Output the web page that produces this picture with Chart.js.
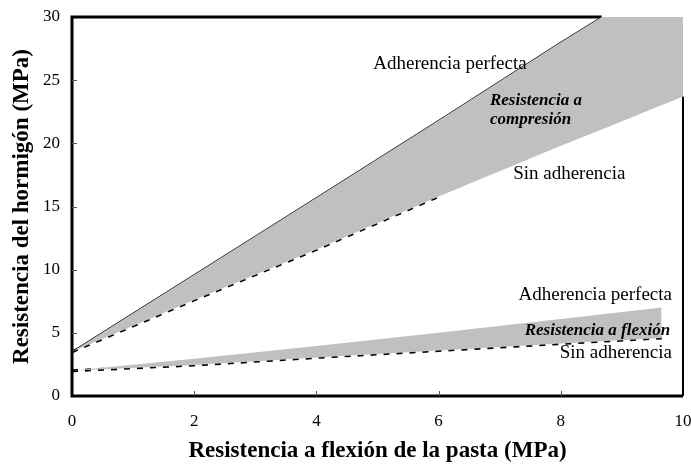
<!DOCTYPE html>
<html>
<head>
<meta charset="utf-8">
<script src="https://cdn.jsdelivr.net/npm/chart.js@4.4.1/dist/chart.umd.min.js"></script>
<style>
html, body { margin: 0; padding: 0; background: #fff; }
#wrap { width: 691px; height: 465px; }
</style>
</head>
<body>
<div id="wrap"><canvas id="myChart"></canvas></div>
<script>
// compresion (MPa)
var compX        = [0, 2, 4, 6, 8, 8.67, 10];
var compPerfecta = [3.5, 9.6, 15.7, 21.8, 28.0, 30, 30];
var compSin      = [3.5, 7.6, 11.6, 15.8, 19.8, 21.1, 23.7];

// flexion (MPa)
var flexX        = [0, 2, 4, 6, 8, 9.65];
var flexPerfecta = [2.0, 2.95, 3.95, 5.0, 6.1, 7.0];
var flexSin      = [2.0, 2.45, 3.05, 3.6, 4.15, 4.6];

// text in the plot, anchored at data coords
var noteText  = ['Adherencia perfecta', 'Resistencia a', 'compresión', 'Sin adherencia',
                 'Adherencia perfecta', 'Resistencia a flexión', 'Sin adherencia'];
var noteX     = [4.93, 6.84, 6.84, 7.22, 9.82, 9.79, 9.82];
var noteY     = [26.3, 23.35, 21.9, 17.6, 7.97, 5.2, 3.4];
var noteRight = [false, false, false, false, true, true, true];
var noteBold  = [false, true, true, false, false, true, false];

var xTitle = 'Resistencia a flexión de la pasta (MPa)';
var yTitle = 'Resistencia del hormigón (MPa)';

var SERIF = '"Liberation Serif", "Times New Roman", serif';
var GRAY = '#c0c0c0';

var cutAt = 8.67; // upper compresion line leaves the top here
var dashTo = 6.5; // dashes fade out after this

function pts(xs, ys, upTo) {
	var out = [];
	for (var i = 0; i < xs.length; i++) {
		if (upTo !== undefined && xs[i] > upTo) break;
		out.push({ x: xs[i], y: ys[i] });
	}
	return out;
}

// frame, inward ticks and the notes
var framePlugin = {
	id: 'frame',
	beforeDraw: function (chart) {
		var a = chart.chartArea, ctx = chart.ctx;
		var xs = chart.scales.x, ys = chart.scales.y;
		ctx.save();
		ctx.strokeStyle = '#000';
		ctx.lineWidth = 3;
		ctx.beginPath();
		ctx.moveTo(xs.getPixelForValue(cutAt), a.top);
		ctx.lineTo(a.left, a.top);
		ctx.lineTo(a.left, a.bottom);
		ctx.lineTo(a.right, a.bottom);
		ctx.stroke();
		ctx.lineWidth = 2;
		ctx.beginPath();
		ctx.moveTo(a.right, ys.getPixelForValue(compSin[compSin.length - 1]));
		ctx.lineTo(a.right, a.bottom);
		ctx.stroke();
		ctx.restore();
	},
	afterDraw: function (chart) {
		var a = chart.chartArea, ctx = chart.ctx;
		var xs = chart.scales.x, ys = chart.scales.y;
		ctx.save();
		ctx.strokeStyle = '#555';
		ctx.lineWidth = 1;
		ctx.beginPath();
		xs.ticks.forEach(function (t) {
			if (t.value <= 0 || t.value >= 10) return;
			var px = Math.round(xs.getPixelForValue(t.value)) + 0.5;
			ctx.moveTo(px, a.bottom);
			ctx.lineTo(px, a.bottom - 5);
		});
		ys.ticks.forEach(function (t) {
			if (t.value <= 0 || t.value >= 30) return;
			var py = Math.round(ys.getPixelForValue(t.value)) + 0.5;
			ctx.moveTo(a.left, py);
			ctx.lineTo(a.left + 5, py);
		});
		ctx.stroke();

		ctx.fillStyle = '#000';
		ctx.textBaseline = 'middle';
		for (var i = 0; i < noteText.length; i++) {
			ctx.font = (noteBold[i] ? 'italic bold 17px ' : '19px ') + SERIF;
			ctx.textAlign = noteRight[i] ? 'right' : 'left';
			ctx.fillText(noteText[i], xs.getPixelForValue(noteX[i]), ys.getPixelForValue(noteY[i]));
		}
		ctx.restore();
	}
};

var bandStyle = { borderWidth: 0, pointRadius: 0, backgroundColor: GRAY, borderColor: GRAY };
var dashStyle = { borderColor: '#000', borderWidth: 3, borderDash: [6, 7], fill: false, pointRadius: 0 };

var myChart = new Chart(document.getElementById('myChart'), {
	type: 'line',
	data: {
		datasets: [
			// gray bands
			Object.assign({ label: 'Compresion perfecta', data: pts(compX, compPerfecta), fill: '+1' }, bandStyle),
			Object.assign({ label: 'Compresion sin', data: pts(compX, compSin), fill: false }, bandStyle),
			Object.assign({ label: 'Flexion perfecta', data: pts(flexX, flexPerfecta), fill: '+1' }, bandStyle),
			Object.assign({ label: 'Flexion sin', data: pts(flexX, flexSin), fill: false }, bandStyle),
			// lines on top
			{ label: 'Adherencia perfecta', data: pts(compX, compPerfecta, cutAt), borderColor: '#000', borderWidth: 1.2, fill: false, pointRadius: 0 },
			Object.assign({ label: 'Sin adherencia (compresion)', data: pts(compX, compSin, dashTo) }, dashStyle),
			Object.assign({ label: 'Sin adherencia (flexion)', data: pts(flexX, flexSin) }, dashStyle)
		]
	},
	options: {
		responsive: true,
		maintainAspectRatio: false,
		animation: false,
		layout: { padding: { top: 17, right: 8, left: 0, bottom: 0 } },
		plugins: {
			legend: { display: false },
			tooltip: { enabled: false }
		},
		scales: {
			x: {
				type: 'linear',
				min: 0,
				max: 10,
				ticks: { stepSize: 2, color: '#000', font: { family: SERIF, size: 17 }, padding: 15 },
				grid: { display: false, drawTicks: false },
				border: { display: false },
				title: { display: true, text: xTitle, color: '#000', font: { family: SERIF, size: 23, weight: 'bold' }, padding: { top: 4, bottom: 0 } },
				afterFit: function (s) { s.height = 69; s.paddingLeft = 0; s.paddingRight = 0; }
			},
			y: {
				min: 0,
				max: 30,
				ticks: { stepSize: 5, color: '#000', font: { family: SERIF, size: 17 }, padding: 12 },
				grid: { display: false, drawTicks: false },
				border: { display: false },
				title: { display: true, text: yTitle, color: '#000', font: { family: SERIF, size: 23, weight: 'bold' }, padding: { top: 8, bottom: 0 } },
				afterFit: function (s) { s.width = 72; s.paddingTop = 0; s.paddingBottom = 0; }
			}
		}
	},
	plugins: [framePlugin]
});
</script>
</body>
</html>
